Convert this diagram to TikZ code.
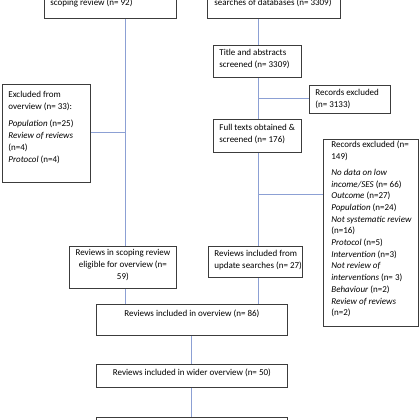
\documentclass[tikz,border=0pt]{standalone}
\usepackage{fontspec}
\setmainfont{Carlito}
\definecolor{conn}{RGB}{140,160,212}
\definecolor{edgec}{RGB}{60,60,60}
\newcommand\lbox[5]{\parbox[b][#2pt][t]{#1pt}{\vspace*{#3pt}\raggedright\leftskip=#4pt\relax #5\par}}
\newcommand\cbox[4]{\parbox[b][#2pt][t]{#1pt}{\vspace*{#3pt}\centering #4\par}}
\tikzset{
  box/.style={draw=edgec, line width=0.8pt, fill=white, inner sep=0pt, anchor=north west,
    font=\fontsize{9}{12}\selectfont},
  link/.style={draw=conn, line width=1pt}
}
\begin{document}
\begin{tikzpicture}[x=1pt,y=-1pt]
\useasboundingbox (0,0) rectangle (420,420);
\clip (0,0) rectangle (420,420);
\fill[white] (0,0) rectangle (420,420);
\coordinate (lx) at (125.5,0);
\coordinate (rx) at (258.5,0);
\coordinate (b2) at (258.5,194.5);
% left column
\node[box] (topL) at (44,-20) {\lbox{132}{38}{19}{6}{scoping review (n= 92)}};
\node[box] (excl) at (2,83.5) {\lbox{88}{98}{7}{6}{Excluded from\\ overview (n= 33):\par\vspace{5pt}\textit{Population} (n=25)\\ \textit{Review of reviews}\\ (n=4)\\ \textit{Protocol} (n=4)}};
\node[box] (scop) at (69,246) {\cbox{107}{42}{3}{Reviews in scoping review\\ eligible for overview (n=\\ 59)}};
% right column
\node[box] (topR) at (207,-20) {\lbox{133}{38}{19}{7}{searches of databases (n= 3309)}};
\node[box] (title) at (213,45) {\lbox{88}{32}{4}{6}{Title and abstracts\\ screened (n= 3309)}};
\node[box] (rec1) at (309,84.5) {\lbox{81}{28}{4}{6}{Records excluded\\ (n= 3133)}};
\node[box] (full) at (213,119) {\lbox{88}{33}{5}{6}{Full texts obtained \&\\ screened (n= 176)}};
\node[box, font=\fontsize{9}{11.7}\selectfont] (rec2) at (323,139) {\lbox{95}{187}{2}{8}{Records excluded (n=\\ 149)\par\vspace{4pt}\textit{No data on low}\\ \textit{income/SES} (n= 66)\\ \textit{Outcome} (n=27)\\ \textit{Population} (n=24)\\ \textit{Not systematic review}\\ (n=16)\\ \textit{Protocol} (n=5)\\ \textit{Intervention} (n=3)\\ \textit{Not review of}\\ \textit{interventions} (n= 3)\\ \textit{Behaviour} (n=2)\\ \textit{Review of reviews}\\ (n=2)}};
\node[box] (upd) at (208,246) {\lbox{94}{31}{4}{6}{Reviews included from\\ update searches (n= 27)}};
% bottom
\node[box] (ov) at (96,304) {\cbox{191}{31}{6}{Reviews included in overview (n= 86)}};
\node[box] (wider) at (96,364) {\cbox{191}{23}{5}{Reviews included in wider overview (n= 50)}};
\node[draw=edgec, line width=0.8pt, fill=white, anchor=north west, inner sep=0pt,
      minimum width=191pt, minimum height=30pt] (bot) at (96,417) {};
% connectors
\draw[link] (lx |- topL.south) -- (lx |- scop.north);
\draw[link] (excl.east) -- (excl.east -| lx);
\draw[link] (lx |- scop.south) -- (lx |- ov.north);
\draw[link] (rx |- topR.south) -- (rx |- title.north);
\draw[link] (rx |- title.south) -- (rx |- full.north);
\draw[link] (rec1.west) -- (rec1.west -| rx);
\draw[link] (rx |- full.south) -- (rx |- upd.north);
\draw[link] (b2) -- (b2 -| rec2.west);
\draw[link] (rx |- upd.south) -- (rx |- ov.north);
\draw[link] (ov.south) -- (wider.north);
\draw[link] (wider.south) -- (bot.north);
\end{tikzpicture}
\end{document}
